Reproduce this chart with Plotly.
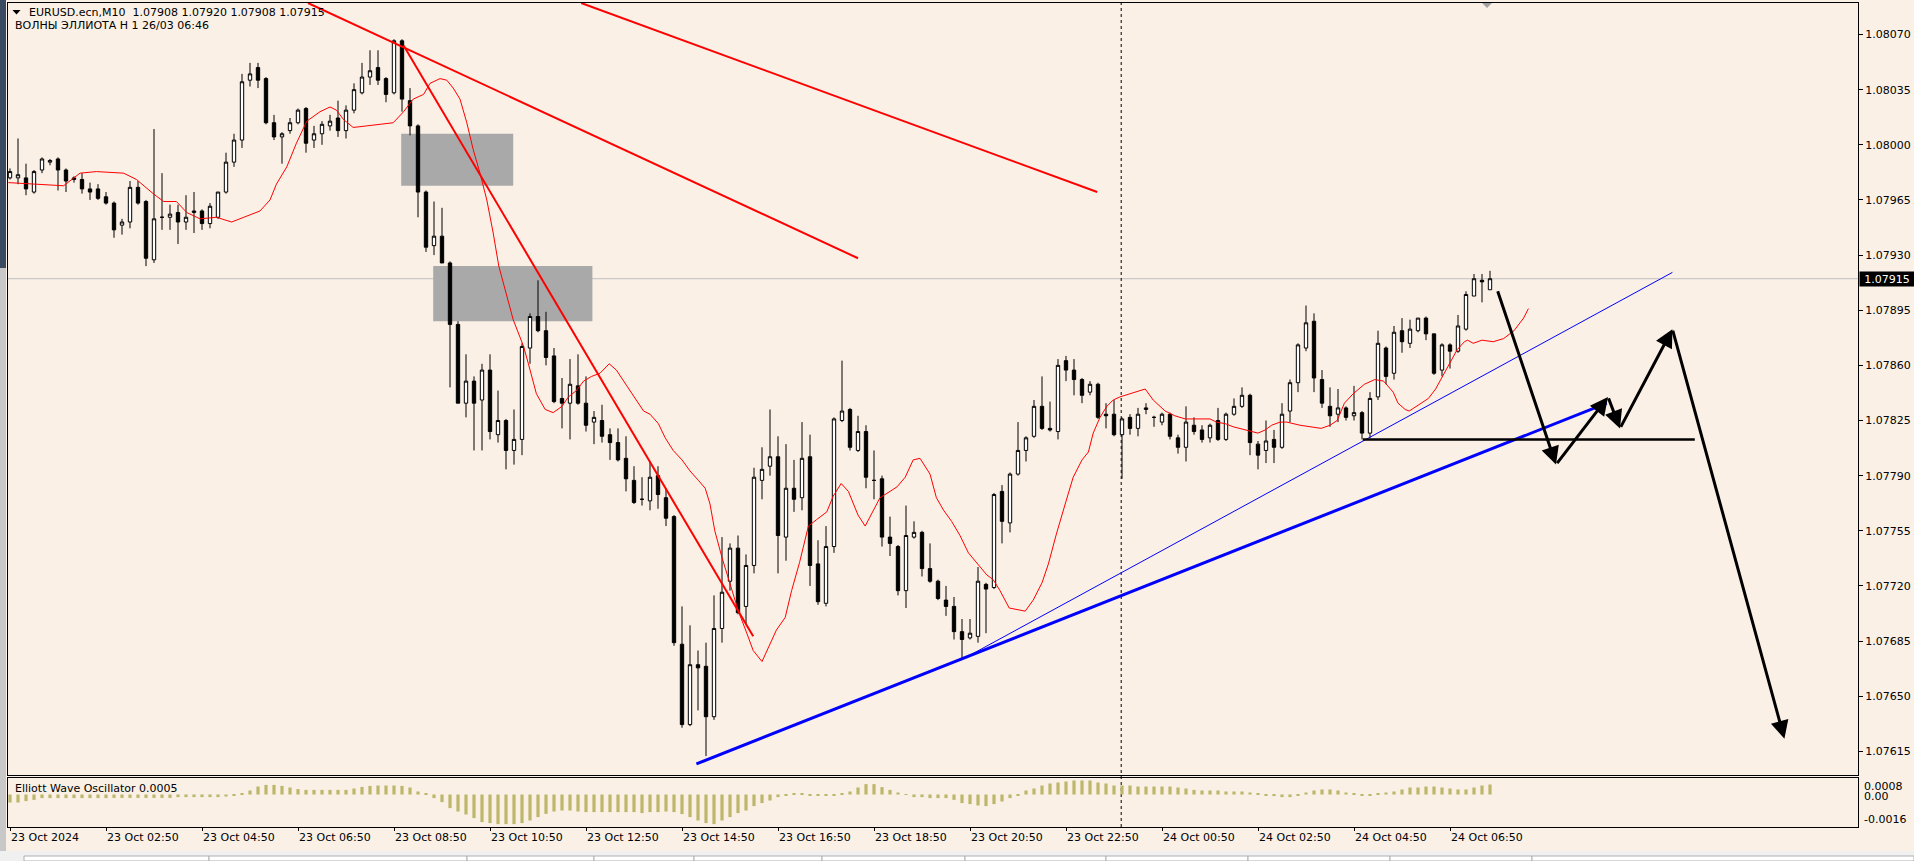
import plotly.graph_objects as go

# ---------------- data ----------------
bar_index = list(range(186))

opens = [
 1.07979, 1.07979, 1.07979, 1.07970, 1.07984, 1.07989, 1.07991, 1.07984, 1.07979, 1.07978,
 1.07972, 1.07972, 1.07967, 1.07963, 1.07949, 1.07951, 1.07973, 1.07964, 1.07927, 1.07954,
 1.07954, 1.07957, 1.07951, 1.07957, 1.07958, 1.07950, 1.07954, 1.07970, 1.07989, 1.08003,
 1.08041, 1.08049, 1.08042, 1.08014, 1.08005, 1.08009, 1.08014, 1.08023, 1.08003, 1.08007,
 1.08012, 1.08017, 1.08009, 1.08022, 1.08033, 1.08043, 1.08049, 1.08042, 1.08033, 1.08066,
 1.08028, 1.08012, 1.07970, 1.07936, 1.07942, 1.07925, 1.07886, 1.07836, 1.07850, 1.07838,
 1.07857, 1.07816, 1.07825, 1.07806, 1.07813, 1.07871, 1.07891, 1.07882, 1.07866, 1.07839,
 1.07836, 1.07847, 1.07836, 1.07824, 1.07825, 1.07816, 1.07811, 1.07801, 1.07787, 1.07775,
 1.07774, 1.07790, 1.07776, 1.07764, 1.07683, 1.07632, 1.07670, 1.07669, 1.07637, 1.07693,
 1.07723, 1.07744, 1.07707, 1.07733, 1.07787, 1.07796, 1.07802, 1.07751, 1.07782, 1.07776,
 1.07802, 1.07734, 1.07709, 1.07745, 1.07825, 1.07832, 1.07806, 1.07818, 1.07787, 1.07788,
 1.07751, 1.07745, 1.07717, 1.07751, 1.07754, 1.07731, 1.07723, 1.07711, 1.07707, 1.07691,
 1.07687, 1.07688, 1.07721, 1.07719, 1.07780, 1.07760, 1.07791, 1.07806, 1.07815, 1.07834,
 1.07820, 1.07818, 1.07863, 1.07857, 1.07851, 1.07843, 1.07848, 1.07829, 1.07829, 1.07816,
 1.07827, 1.07820, 1.07832, 1.07827, 1.07824, 1.07829, 1.07814, 1.07808, 1.07822, 1.07819,
 1.07814, 1.07825, 1.07813, 1.07829, 1.07834, 1.07841, 1.07810, 1.07806, 1.07813, 1.07808,
 1.07831, 1.07849, 1.07871, 1.07888, 1.07851, 1.07834, 1.07829, 1.07833, 1.07828, 1.07830,
 1.07817, 1.07840, 1.07871, 1.07855, 1.07882, 1.07874, 1.07882, 1.07890, 1.07880, 1.07857,
 1.07873, 1.07869, 1.07883, 1.07904, 1.07914, 1.07908]

highs = [
 1.07985, 1.08004, 1.07988, 1.07984, 1.07992, 1.07991, 1.07992, 1.07985, 1.07980, 1.07982,
 1.07976, 1.07975, 1.07970, 1.07964, 1.07953, 1.07977, 1.07977, 1.07965, 1.08010, 1.07982,
 1.07962, 1.07962, 1.07968, 1.07970, 1.07959, 1.07963, 1.07970, 1.07995, 1.08007, 1.08045,
 1.08052, 1.08052, 1.08043, 1.08019, 1.08008, 1.08017, 1.08023, 1.08024, 1.08012, 1.08015,
 1.08019, 1.08028, 1.08025, 1.08039, 1.08052, 1.08060, 1.08060, 1.08043, 1.08067, 1.08067,
 1.08036, 1.08013, 1.07971, 1.07964, 1.07960, 1.07926, 1.07888, 1.07867, 1.07853, 1.07861,
 1.07867, 1.07844, 1.07826, 1.07832, 1.07874, 1.07893, 1.07914, 1.07894, 1.07871, 1.07852,
 1.07864, 1.07867, 1.07853, 1.07831, 1.07835, 1.07820, 1.07820, 1.07815, 1.07796, 1.07789,
 1.07799, 1.07796, 1.07782, 1.07765, 1.07707, 1.07695, 1.07679, 1.07684, 1.07714, 1.07751,
 1.07747, 1.07752, 1.07740, 1.07795, 1.07808, 1.07832, 1.07815, 1.07810, 1.07800, 1.07824,
 1.07816, 1.07749, 1.07758, 1.07827, 1.07863, 1.07833, 1.07828, 1.07822, 1.07806, 1.07790,
 1.07764, 1.07746, 1.07771, 1.07761, 1.07755, 1.07747, 1.07724, 1.07720, 1.07713, 1.07699,
 1.07699, 1.07732, 1.07722, 1.07779, 1.07784, 1.07792, 1.07824, 1.07815, 1.07838, 1.07853,
 1.07837, 1.07864, 1.07866, 1.07864, 1.07852, 1.07850, 1.07849, 1.07836, 1.07838, 1.07827,
 1.07829, 1.07833, 1.07836, 1.07828, 1.07830, 1.07830, 1.07816, 1.07834, 1.07827, 1.07822,
 1.07823, 1.07833, 1.07830, 1.07839, 1.07846, 1.07842, 1.07812, 1.07825, 1.07819, 1.07836,
 1.07851, 1.07874, 1.07898, 1.07893, 1.07857, 1.07846, 1.07845, 1.07834, 1.07847, 1.07831,
 1.07843, 1.07882, 1.07872, 1.07885, 1.07890, 1.07889, 1.07890, 1.07891, 1.07880, 1.07874,
 1.07874, 1.07892, 1.07907, 1.07918, 1.07918, 1.07920]

lows = [
 1.07978, 1.07975, 1.07968, 1.07969, 1.07982, 1.07987, 1.07971, 1.07970, 1.07976, 1.07969,
 1.07965, 1.07965, 1.07962, 1.07941, 1.07943, 1.07947, 1.07962, 1.07923, 1.07925, 1.07946,
 1.07946, 1.07937, 1.07946, 1.07944, 1.07946, 1.07947, 1.07953, 1.07969, 1.07986, 1.07998,
 1.08037, 1.08036, 1.08013, 1.08003, 1.07988, 1.08007, 1.08013, 1.07995, 1.07998, 1.08000,
 1.08009, 1.08005, 1.08004, 1.08020, 1.08032, 1.08038, 1.08038, 1.08027, 1.08032, 1.08021,
 1.08006, 1.07954, 1.07932, 1.07930, 1.07925, 1.07846, 1.07836, 1.07827, 1.07806, 1.07806,
 1.07813, 1.07811, 1.07794, 1.07797, 1.07803, 1.07861, 1.07881, 1.07860, 1.07836, 1.07820,
 1.07813, 1.07835, 1.07818, 1.07810, 1.07811, 1.07800, 1.07799, 1.07780, 1.07772, 1.07771,
 1.07768, 1.07769, 1.07758, 1.07682, 1.07630, 1.07631, 1.07641, 1.07612, 1.07635, 1.07684,
 1.07717, 1.07702, 1.07696, 1.07728, 1.07775, 1.07790, 1.07728, 1.07736, 1.07767, 1.07768,
 1.07720, 1.07708, 1.07707, 1.07741, 1.07824, 1.07806, 1.07805, 1.07782, 1.07775, 1.07745,
 1.07739, 1.07714, 1.07706, 1.07750, 1.07726, 1.07722, 1.07711, 1.07701, 1.07686, 1.07673,
 1.07686, 1.07684, 1.07690, 1.07718, 1.07747, 1.07754, 1.07790, 1.07799, 1.07814, 1.07819,
 1.07818, 1.07813, 1.07850, 1.07841, 1.07836, 1.07841, 1.07826, 1.07820, 1.07815, 1.07788,
 1.07816, 1.07815, 1.07829, 1.07821, 1.07822, 1.07813, 1.07804, 1.07799, 1.07816, 1.07811,
 1.07811, 1.07812, 1.07812, 1.07828, 1.07833, 1.07803, 1.07794, 1.07798, 1.07798, 1.07807,
 1.07824, 1.07843, 1.07869, 1.07843, 1.07833, 1.07821, 1.07824, 1.07825, 1.07825, 1.07813,
 1.07814, 1.07838, 1.07848, 1.07851, 1.07868, 1.07871, 1.07881, 1.07876, 1.07854, 1.07853,
 1.07858, 1.07868, 1.07882, 1.07904, 1.07900, 1.07908]

closes = [
 1.07983, 1.07981, 1.07972, 1.07983, 1.07991, 1.07990, 1.07984, 1.07977, 1.07978, 1.07972,
 1.07970, 1.07966, 1.07963, 1.07946, 1.07951, 1.07973, 1.07963, 1.07928, 1.07953, 1.07954,
 1.07956, 1.07951, 1.07954, 1.07958, 1.07950, 1.07961, 1.07970, 1.07989, 1.08003, 1.08040,
 1.08045, 1.08041, 1.08014, 1.08005, 1.08007, 1.08014, 1.08022, 1.08001, 1.08007, 1.08013,
 1.08015, 1.08009, 1.08022, 1.08035, 1.08043, 1.08047, 1.08041, 1.08032, 1.08066, 1.08029,
 1.08012, 1.07970, 1.07935, 1.07942, 1.07925, 1.07886, 1.07836, 1.07850, 1.07836, 1.07857,
 1.07818, 1.07825, 1.07806, 1.07813, 1.07872, 1.07891, 1.07882, 1.07865, 1.07837, 1.07836,
 1.07848, 1.07836, 1.07822, 1.07827, 1.07815, 1.07811, 1.07800, 1.07788, 1.07773, 1.07775,
 1.07789, 1.07778, 1.07763, 1.07684, 1.07632, 1.07670, 1.07668, 1.07637, 1.07693, 1.07716,
 1.07744, 1.07703, 1.07733, 1.07789, 1.07794, 1.07802, 1.07752, 1.07782, 1.07775, 1.07801,
 1.07733, 1.07710, 1.07745, 1.07826, 1.07831, 1.07808, 1.07818, 1.07789, 1.07787, 1.07751,
 1.07747, 1.07717, 1.07752, 1.07754, 1.07731, 1.07723, 1.07712, 1.07707, 1.07691, 1.07686,
 1.07690, 1.07723, 1.07718, 1.07778, 1.07761, 1.07791, 1.07806, 1.07814, 1.07834, 1.07820,
 1.07819, 1.07860, 1.07857, 1.07851, 1.07841, 1.07848, 1.07827, 1.07828, 1.07816, 1.07826,
 1.07820, 1.07829, 1.07833, 1.07827, 1.07829, 1.07815, 1.07808, 1.07824, 1.07818, 1.07813,
 1.07822, 1.07813, 1.07829, 1.07834, 1.07841, 1.07811, 1.07803, 1.07812, 1.07808, 1.07829,
 1.07849, 1.07873, 1.07887, 1.07852, 1.07836, 1.07828, 1.07833, 1.07827, 1.07830, 1.07817,
 1.07839, 1.07874, 1.07853, 1.07881, 1.07875, 1.07883, 1.07890, 1.07880, 1.07855, 1.07873,
 1.07869, 1.07885, 1.07905, 1.07915, 1.07913, 1.07915]

# shifted moving average (red thin line), read at bar positions
ma_pos = [-0.2, 2.9, 6.7, 8.75, 10.8, 14.2, 15.8, 17.9, 19.2, 20.8, 22.1, 23.75, 25.8, 27.7, 29.2,
          31.25, 32.5, 33.3, 34.6, 35.8, 37.1, 38.75, 40, 40.8, 41.7, 42.9, 44.6, 46.7, 47.9, 49.2,
          50.4, 51.7, 52.5, 53.75, 54.6, 55.4, 56.25, 57.1, 57.9, 58.75, 59.6, 60.4, 61.1,
          62.9, 64.2, 64.8, 65.8, 66.9, 67.9, 69.0, 69.8, 70.8, 71.7, 72.7, 73.75, 74.9, 75.8,
          77.1, 78.3, 79.2, 80, 81.05, 81.9, 82.9, 84, 85, 86.05, 86.9, 87.5, 88.1, 89.0, 90,
          91.05, 92.1, 92.9, 94.0, 95, 95.8, 96.9, 97.7, 98.7,
          99.8, 100.8, 102.1, 102.9, 103.9, 104.8, 106.0, 106.9, 107.9, 108.75, 110, 110.9, 111.9,
          112.9, 113.75, 115, 115.8, 116.7, 117.7, 118.75, 119.8, 121.05, 122.1, 122.9, 123.75,
          124.9, 126.9, 127.9, 129, 129.8, 130.8, 131.9, 132.9, 134, 134.8, 135.4, 136.25, 137.1,
          137.9, 138.75, 140, 141.9, 142.9, 144.4, 145.6, 146.9, 148.75, 150, 150.8, 151.9, 152.9,
          154.4, 156.0, 156.9, 157.7, 158.75, 159.6, 161.25,
          163.9, 165, 165.9, 166.8, 167.9, 169.3, 170.6, 171.7, 172.9, 173.5, 174.4, 174.9, 175.8,
          177.3, 178.2, 179.3, 180.2, 180.9, 181.8, 182.2, 182.9, 184, 185.4, 186.7, 188, 189.2, 189.8]
ma_val = [1.07976, 1.07975, 1.07974, 1.07982, 1.07983, 1.07982, 1.07978, 1.07969, 1.07964, 1.07964,
          1.07957, 1.07953, 1.07954, 1.07951, 1.07954, 1.07958, 1.07965, 1.07975, 1.07986, 1.08001,
          1.08015, 1.08021, 1.08024, 1.08022, 1.08016, 1.08011, 1.08012, 1.08013, 1.08014, 1.08021,
          1.08029, 1.08032, 1.08039, 1.08042, 1.08041, 1.08036, 1.08029, 1.08014, 1.07997, 1.07982,
          1.07965, 1.07944, 1.07923,
          1.07889, 1.07872, 1.07861, 1.07842, 1.07832, 1.07830, 1.07834, 1.07840, 1.07844, 1.07850,
          1.07853, 1.07855, 1.07861, 1.07857, 1.07847, 1.07838, 1.07831, 1.07829, 1.07823, 1.07814,
          1.07806, 1.07800, 1.07793, 1.07787, 1.07782, 1.07772, 1.07755, 1.07738, 1.07721, 1.07704,
          1.07690, 1.07679, 1.07672, 1.07683, 1.07692, 1.07700, 1.07717, 1.07735,
          1.07758, 1.07762, 1.07767, 1.07777, 1.07785, 1.07780, 1.07765, 1.07758, 1.07768, 1.07776,
          1.07780, 1.07783, 1.07789, 1.07800, 1.07801, 1.07791, 1.07776, 1.07768, 1.07761, 1.07752,
          1.07741, 1.07733, 1.07727, 1.07724, 1.07717, 1.07706, 1.07704, 1.07711, 1.07722, 1.07734,
          1.07753, 1.07772, 1.07789, 1.07800, 1.07805, 1.07817, 1.07827, 1.07834, 1.07838, 1.07840,
          1.07842, 1.07845, 1.07838, 1.07831, 1.07828, 1.07826, 1.07826, 1.07826, 1.07824, 1.07823,
          1.07821, 1.07819, 1.07817, 1.07819, 1.07822, 1.07824, 1.07824, 1.07822,
          1.07820, 1.07822, 1.07825, 1.07836, 1.07842, 1.07848, 1.07851, 1.07850, 1.07843, 1.07836,
          1.07832, 1.07831, 1.07834, 1.07839, 1.07845, 1.07855, 1.07863, 1.07870, 1.07875, 1.07876,
          1.07874, 1.07876, 1.07875, 1.07877, 1.07882, 1.07890, 1.07896]

osc_val = [
 -0.0004, -0.0004, -0.00033, -0.00027, -0.00018, -0.00018, -0.00018, -0.00018, -0.00018, -0.00018,
 -0.00018, -0.00018, -0.00018, -0.00017, -0.00017, -0.00017, -0.00017, -0.00017, -0.00017, -0.00017,
 -0.00017, -0.00013, -0.00013, -0.00013, -0.00013, -0.00013, -0.00013, -0.0001, -0.00005, 0.00005,
 0.0002, 0.0004, 0.00048, 0.00048, 0.00043, 0.00035, 0.00027, 0.00023, 0.00023, 0.00023,
 0.00023, 0.00023, 0.00023, 0.0003, 0.00038, 0.00043, 0.00045, 0.00045, 0.00045, 0.00043,
 0.00035, 0.00015, 0.00005, -0.00018, -0.00038, -0.00068, -0.00085, -0.001, -0.00118, -0.00138,
 -0.00143, -0.00148, -0.00148, -0.00148, -0.00143, -0.0013, -0.00113, -0.00097, -0.00085, -0.0008,
 -0.0008, -0.00085, -0.00088, -0.00088, -0.00088, -0.00088, -0.00088, -0.00088, -0.00088, -0.00093,
 -0.00088, -0.00088, -0.00085, -0.00088, -0.00098, -0.00113, -0.0013, -0.00143, -0.00148, -0.0013,
 -0.00113, -0.00093, -0.0008, -0.00058, -0.00043, -0.0003, -0.00013, -0.00003, 0.00003, 0.00005,
 -0.00003, -0.00003, -0.00005, -0.00005, 0.00005, 0.00015, 0.00035, 0.00052, 0.00052, 0.00037,
 0.00023, 0.0001, -0.00002, -0.00013, -0.00013, -0.00018, -0.00018, -0.00018, -0.00027, -0.00043,
 -0.00048, -0.00055, -0.00058, -0.00048, -0.00035, -0.00018, -0.00003, 0.0002, 0.0003, 0.00045,
 0.00055, 0.0006, 0.00065, 0.0007, 0.0007, 0.0007, 0.0006, 0.00055, 0.00045, 0.00045,
 0.00045, 0.0004, 0.0004, 0.0004, 0.0004, 0.0004, 0.00035, 0.0003, 0.00023, 0.0002,
 0.0002, 0.0002, 0.00015, 0.00015, 0.00015, 0.0001, 0.00005, -0.00003, -0.00008, -0.00013,
 -0.00013, -0.00003, 0.0001, 0.0002, 0.00025, 0.00025, 0.0002, 0.0001, 0.00005, -0.00003,
 -0.00003, 0.00005, 0.0001, 0.00015, 0.00025, 0.00035, 0.00035, 0.0004, 0.0004, 0.00035,
 0.0003, 0.00025, 0.00025, 0.00035, 0.00045, 0.0005]

time_tick_bars = [0, 12, 24, 36, 48, 60, 72, 84, 96, 108, 120, 132, 144, 156, 168, 180]
time_tick_text = ["23 Oct 2024", "23 Oct 02:50", "23 Oct 04:50", "23 Oct 06:50", "23 Oct 08:50",
                  "23 Oct 10:50", "23 Oct 12:50", "23 Oct 14:50", "23 Oct 16:50", "23 Oct 18:50",
                  "23 Oct 20:50", "23 Oct 22:50", "24 Oct 00:50", "24 Oct 02:50", "24 Oct 04:50",
                  "24 Oct 06:50"]
price_ticks = [1.08070, 1.08035, 1.08000, 1.07965, 1.07930, 1.07895, 1.07860, 1.07825,
               1.07790, 1.07755, 1.07720, 1.07685, 1.07650, 1.07615]
price_tick_text = ["1.08070", "1.08035", "1.08000", "1.07965", "1.07930", "1.07895", "1.07860",
                   "1.07825", "1.07790", "1.07755", "1.07720", "1.07685", "1.07650", "1.07615"]
bid_price = 1.07915
day_separator_bar = 138.9

# analyst drawings (bar position, price)
red_line_1 = [(37.25, 1.08090), (106.0, 1.07928)]
red_line_2 = [(71.4, 1.08090), (135.9, 1.07970)]
red_line_3 = [(49.2, 1.08063), (92.9, 1.07688)]
zone_1 = [(48.9, 1.07974), (62.9, 1.08007)]
zone_2 = [(52.9, 1.07888), (72.8, 1.07923)]
blue_thick = [(85.8, 1.07607), (199.6, 1.07836)]
blue_thin = [(118.9, 1.07673), (207.8, 1.07919)]
black_level = [(169.1, 1.07813), (210.6, 1.07813)]
wave_path = [(185.9, 1.07908), (193.25, 1.07797), (199.75, 1.07840), (201.25, 1.07820),
             (207.8, 1.07883), (221.8, 1.07623)]

# ---------------- layout helpers (pixel -> paper) ----------------
W, H = 1914, 861
L, R, T, B = 8, 1858, 3, 827


def pxx(x):
    return (x - L) / (R - L)


def pxy(y):
    return (B - y) / (B - T)


FONT = "DejaVu Sans"
BG = "#FAF0E6"

fig = go.Figure()

fig.add_trace(go.Candlestick(
    x=bar_index, open=opens, high=highs, low=lows, close=closes,
    increasing=dict(line=dict(color="black", width=1), fillcolor="white"),
    decreasing=dict(line=dict(color="black", width=1), fillcolor="black"),
    whiskerwidth=0, xaxis="x", yaxis="y", hoverinfo="skip", showlegend=False))

fig.add_trace(go.Scatter(x=ma_pos, y=ma_val, mode="lines", line=dict(color="#FF0000", width=1),
                         xaxis="x", yaxis="y", hoverinfo="skip", showlegend=False))


def seg(pts, color, width):
    fig.add_trace(go.Scatter(x=[p[0] for p in pts], y=[p[1] for p in pts], mode="lines",
                             line=dict(color=color, width=width), xaxis="x", yaxis="y",
                             hoverinfo="skip", showlegend=False))


seg(red_line_1, "#FF0000", 2)
seg(red_line_2, "#FF0000", 2)
seg(red_line_3, "#FF0000", 2)
seg(blue_thick, "#0000FF", 3)
seg(blue_thin, "#0000FF", 1)
seg(black_level, "#000000", 2.5)

fig.add_trace(go.Bar(x=bar_index, y=osc_val, width=0.4, marker=dict(color="#BDB76B", line=dict(width=0)),
                     xaxis="x2", yaxis="y2", hoverinfo="skip", showlegend=False))

shapes = []
for z in (zone_1, zone_2):
    shapes.append(dict(type="rect", xref="x", yref="y", x0=z[0][0], x1=z[1][0], y0=z[0][1], y1=z[1][1],
                       fillcolor="#A9A9A9", line=dict(width=0), layer="below"))
shapes.append(dict(type="line", xref="paper", yref="y", x0=0, x1=1, y0=bid_price, y1=bid_price,
                   line=dict(color="#C0C0C0", width=1), layer="below"))
shapes.append(dict(type="line", xref="x", yref="paper", x0=day_separator_bar, x1=day_separator_bar,
                   y0=0, y1=1, line=dict(color="black", width=1, dash="3px,3px"), layer="below"))
# header triangle
shapes.append(dict(type="path", xref="paper", yref="paper",
                   path=f"M {pxx(12.5)} {pxy(10)} L {pxx(20.5)} {pxy(10)} L {pxx(16.5)} {pxy(14.5)} Z",
                   fillcolor="black", line=dict(width=0)))
# chart shift marker
shapes.append(dict(type="path", xref="paper", yref="paper",
                   path=f"M {pxx(1482)} {pxy(3)} L {pxx(1492)} {pxy(3)} L {pxx(1487)} {pxy(8)} Z",
                   fillcolor="#A0A0A0", line=dict(width=0)))
# window frame left
shapes.append(dict(type="rect", xref="paper", yref="paper", x0=pxx(0), x1=pxx(6), y0=pxy(268), y1=pxy(0),
                   fillcolor="#3A4A60", line=dict(width=0)))
shapes.append(dict(type="rect", xref="paper", yref="paper", x0=pxx(0), x1=pxx(6), y0=pxy(861), y1=pxy(268),
                   fillcolor="#C8C8C8", line=dict(width=0)))
# bottom status strip
shapes.append(dict(type="rect", xref="paper", yref="paper", x0=pxx(0), x1=pxx(1914), y0=pxy(861), y1=pxy(851),
                   fillcolor="#F0F0F0", line=dict(width=0)))
for a, b in [(24, 209), (209, 467), (467, 594), (594, 694), (694, 822), (822, 965), (965, 1106),
             (1106, 1248), (1248, 1390), (1390, 1532), (1532, 1914)]:
    shapes.append(dict(type="rect", xref="paper", yref="paper", x0=pxx(a), x1=pxx(b), y0=pxy(861), y1=pxy(856),
                       fillcolor="white", line=dict(color="#B0B0B0", width=1)))

annotations = [
    dict(xref="paper", yref="paper", x=pxx(27), y=pxy(12.7), xanchor="left", yanchor="middle", showarrow=False,
         text="EURUSD.ecn,M10\u00a0\u00a01.07908 1.07920 1.07908 1.07915",
         font=dict(family=FONT, size=11, color="black")),
    dict(xref="paper", yref="paper", x=pxx(12.5), y=pxy(25.7), xanchor="left", yanchor="middle", showarrow=False,
         text="ВОЛНЫ ЭЛЛИОТА H 1 26/03 06:46", font=dict(family=FONT, size=11, color="black")),
    dict(xref="paper", yref="paper", x=pxx(13), y=pxy(788), xanchor="left", yanchor="middle", showarrow=False,
         text="Elliott Wave Oscillator 0.0005", font=dict(family=FONT, size=11, color="black")),
    dict(xref="paper", yref="paper", x=pxx(1862), y=pxy(786.7), xanchor="left", yanchor="middle", showarrow=False,
         text="0.0008", font=dict(family=FONT, size=11, color="black")),
    dict(xref="paper", yref="paper", x=pxx(1862), y=pxy(796.7), xanchor="left", yanchor="middle", showarrow=False,
         text="0.00", font=dict(family=FONT, size=11, color="black")),
    dict(xref="paper", yref="paper", x=pxx(1862), y=pxy(819), xanchor="left", yanchor="middle", showarrow=False,
         text="-0.0016", font=dict(family=FONT, size=11, color="black")),
    dict(xref="paper", yref="y", x=pxx(1859), y=bid_price, xanchor="left", yanchor="middle", showarrow=False,
         text=f"{bid_price:.5f}", font=dict(family=FONT, size=11, color="white"), bgcolor="black",
         width=52, height=12, borderpad=1, align="center"),
]
for (x0, y0), (x1, y1) in zip(wave_path[:-1], wave_path[1:]):
    annotations.append(dict(xref="x", yref="y", axref="x", ayref="y", x=x1, y=y1, ax=x0, ay=y0,
                            showarrow=True, arrowhead=2, arrowsize=1.2, arrowwidth=3, arrowcolor="black",
                            text=""))

axis_font = dict(family=FONT, size=11, color="black")
fig.update_layout(
    width=W, height=H, margin=dict(l=L, r=W - R, t=T, b=H - B, autoexpand=False),
    paper_bgcolor=BG, plot_bgcolor=BG, showlegend=False, boxgap=0.4,
    xaxis=dict(domain=[0, 1], anchor="y", range=[-0.25, 231], showticklabels=False, ticks="",
               showline=True, linecolor="black", linewidth=1, mirror=True, showgrid=False, zeroline=False,
               rangeslider=dict(visible=False)),
    yaxis=dict(domain=[pxy(775), 1], anchor="x", side="right", range=[1.07600, 1.08090],
               tickmode="array", tickvals=price_ticks, ticktext=price_tick_text, ticks="outside", ticklen=4,
               tickcolor="black", tickfont=axis_font, showline=True, linecolor="black", linewidth=1,
               mirror=True, showgrid=False, zeroline=False, automargin=False),
    xaxis2=dict(domain=[0, 1], anchor="y2", matches="x", range=[-0.25, 231], tickmode="array",
                tickvals=time_tick_bars, ticktext=time_tick_text, ticks="outside", ticklen=3, tickcolor="black",
                ticklabelposition="outside right", tickfont=axis_font, showline=True, linecolor="black",
                linewidth=1, mirror=True, showgrid=False, zeroline=False, automargin=False),
    yaxis2=dict(domain=[0, pxy(778)], anchor="x2", side="right", range=[-0.001625, 0.000825],
                showticklabels=False, ticks="", showline=True, linecolor="black", linewidth=1, mirror=True,
                showgrid=False, zeroline=False),
    shapes=shapes, annotations=annotations,
)

fig.write_html("out.html", config={"displayModeBar": False},
               post_script="document.body.style.margin='0px';document.body.style.overflow='hidden';")
